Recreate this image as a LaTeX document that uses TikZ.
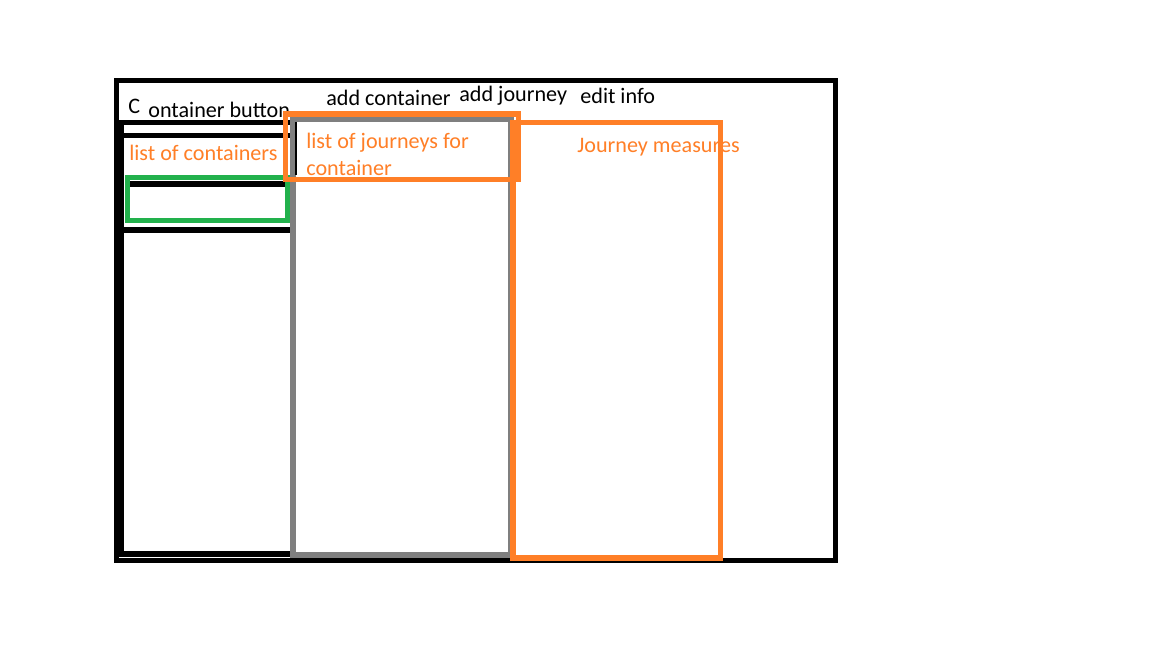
\documentclass[tikz,border=0pt]{standalone}
\usepackage{fontspec}
\setmainfont{Carlito}
\usepackage{xcolor}
\definecolor{paintorange}{HTML}{FF7F27}
\definecolor{paintgreen}{HTML}{22B14C}
\definecolor{paintgray}{HTML}{7F7F7F}

\begin{document}
\begin{tikzpicture}[x=0.02cm, y=-0.02cm,
    thickline/.style={line width=2.9pt},
    label/.style={inner sep=0pt, anchor=base west, font=\fontsize{12.6}{14}\selectfont},
    orangelabel/.style={label, text=paintorange}]
    \fill[white] (0,0) rectangle (1152,648);
    \useasboundingbox (0,0) rectangle (1152,648);

    \draw[thickline, color=black] (116.5,80.5) rectangle (835.5,560.5);

    \draw[thickline, color=black] (292,122.5) -- (121,122.5) -- (121,554) -- (292,554);
    \draw[thickline, color=black] (123,135.5) -- (292,135.5);
    \draw[thickline, color=black] (125,184) -- (290,184);
    \draw[thickline, color=black] (123,230) -- (292,230);

    \draw[thickline, color=paintgreen] (127.5,177.5) rectangle (287.5,220.5);

    \node[label] (c)      at (128,114)   {C};
    \node[label] (button) at (148,118)   {ontainer button};
    \node[label] (addc)   at (326,106)   {add container};
    \node[label] (addj)   at (459,101.5) {add journey};
    \node[label] (edit)   at (580,104)   {edit info};

    \node[orangelabel] (conts) at (129,161) {list of containers};
    \node[orangelabel] (jlist) at (306,149) {list of journeys for};
    \node[orangelabel] (jcont) at (306,176) {container};
    \node[orangelabel] (meas)  at (577,153) {Journey measures};

    \draw[thickline, color=paintgray] (293,119.5) rectangle (511,555);
    \draw[line width=1.4pt, color=black] (296,122) -- (296,175);

    \draw[thickline, color=paintorange] (285.5,114) rectangle (518.5,179.5);
    \draw[thickline, color=paintorange] (513,122.5) rectangle (720.5,558);
\end{tikzpicture}
\end{document}
